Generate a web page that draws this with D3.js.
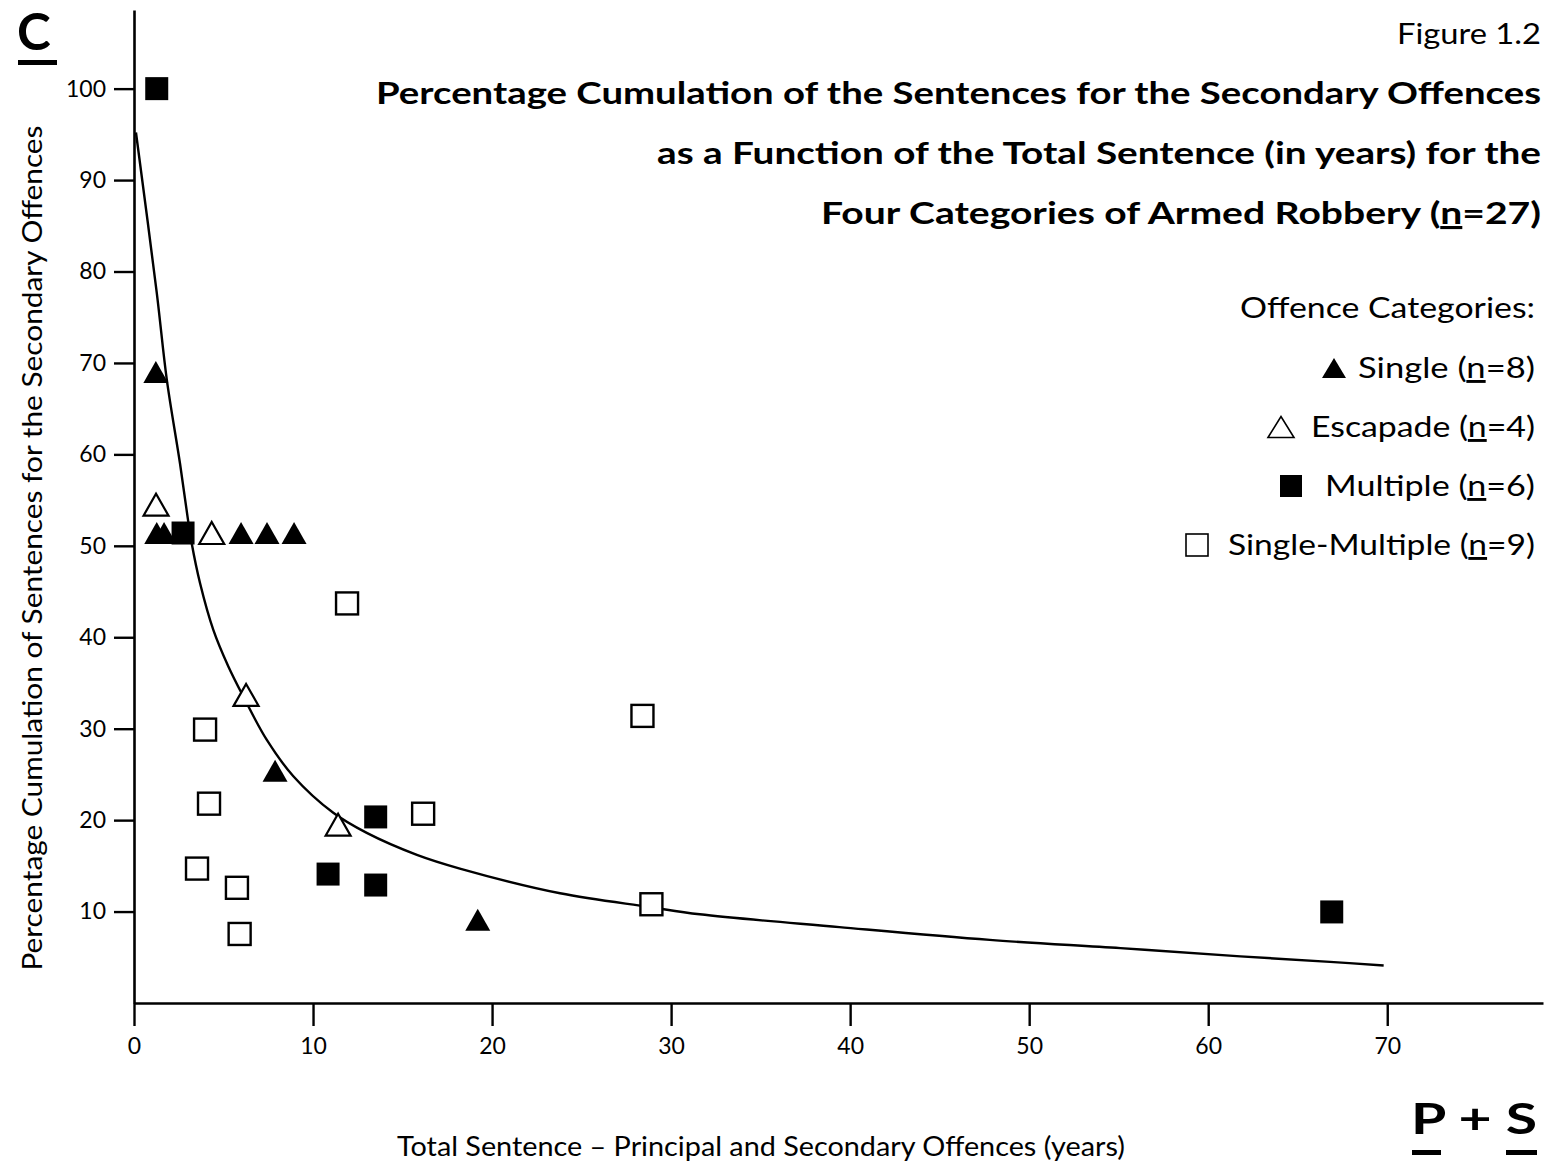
<!DOCTYPE html>
<html>
<head>
<meta charset="utf-8">
<script src="https://cdn.jsdelivr.net/npm/d3@7"></script>
<style>
  html, body { margin: 0; padding: 0; background: #fff; }
  svg { display: block; font-family: Lato, "Open Sans", sans-serif; }
</style>
</head>
<body>
<svg id="chart" width="1546" height="1168"></svg>
<script>
// ---- Data ----
const singleX = [1.22, 1.27, 1.68, 5.98, 7.43, 8.94, 7.88, 19.2];
const singleY = [69.0, 51.4, 51.4, 51.4, 51.4, 51.4, 25.4, 9.1];

const escapadeX = [1.23, 4.34, 6.26, 11.4];
const escapadeY = [54.5, 51.4, 33.7, 19.5];

const multipleX = [1.27, 2.74, 10.84, 13.5, 13.5, 66.9];
const multipleY = [100.0, 51.4, 14.1, 20.35, 12.9, 9.96];

const singleMultX = [11.9, 3.97, 4.19, 3.52, 5.75, 5.9, 16.15, 28.4, 28.9];
const singleMultY = [43.7, 29.9, 21.8, 14.7, 12.6, 7.55, 20.7, 31.4, 10.8];

// fitted curve as drawn in the figure
const curveX = [0.11, 1.27, 1.83, 2.57, 2.99, 3.22, 3.69, 4.43, 5.27, 6.11, 7.41, 8.9, 11.13, 13.0, 15.8, 18.2, 23.8, 28.8, 31.6, 39.4, 47.8, 55.1, 61.8, 66.8, 69.8];
const curveY = [95.2, 77.7, 68.2, 59.0, 53.2, 50.3, 45.9, 40.8, 36.8, 33.5, 28.8, 24.8, 20.8, 18.6, 16.2, 14.7, 12.0, 10.5, 9.7, 8.3, 6.9, 6.0, 5.1, 4.5, 4.1];

const xTicks = [0, 10, 20, 30, 40, 50, 60, 70];
const xTickLabels = ["0", "10", "20", "30", "40", "50", "60", "70"];
const yTicks = [10, 20, 30, 40, 50, 60, 70, 80, 90, 100];
const yTickLabels = ["10", "20", "30", "40", "50", "60", "70", "80", "90", "100"];

const titleLines = [
  ["Percentage Cumulation of the Sentences for the Secondary Offences"],
  ["as a Function of the Total Sentence (in years) for the"],
  ["Four Categories of Armed Robbery (", "n", "=27)"]
];
const legendHeader = "Offence Categories:";
const legendNames = ["Single", "Escapade", "Multiple", "Single-Multiple"];
const legendCounts = ["8", "4", "6", "9"];
const xLabel = "Total Sentence \u2013 Principal and Secondary Offences (years)";
const yLabel = "Percentage Cumulation of Sentences for the Secondary Offences";

// ---- Drawing ----
const svg = d3.select("#chart");
svg.append("rect").attr("width", 1546).attr("height", 1168).attr("fill", "#fff");

const x = d3.scaleLinear().domain([0, 78.7]).range([134, 1543]);
const y = d3.scaleLinear().domain([0, 108.6]).range([1003, 10]);

// axes
const xAxis = d3.axisBottom(x).tickValues(xTicks).tickSize(23).tickSizeOuter(0).tickPadding(12)
  .tickFormat((d, i) => xTickLabels[i]);
const yAxis = d3.axisLeft(y).tickValues(yTicks).tickSize(20).tickSizeOuter(0).tickPadding(8)
  .tickFormat((d, i) => yTickLabels[i]);

const gx = svg.append("g").attr("transform", `translate(0,${y(0)})`).call(xAxis);
const gy = svg.append("g").attr("transform", `translate(${x(0)},0)`).call(yAxis);
[gx, gy].forEach(g => {
  g.select(".domain").attr("stroke", "#000").attr("stroke-width", 2.6);
  g.selectAll(".tick line").attr("stroke", "#000").attr("stroke-width", 2.4);
  g.selectAll(".tick text").attr("fill", "#000").attr("font-size", 23)
    .attr("font-family", "Lato, sans-serif");
});
gx.selectAll(".tick text").attr("dy", "0.71em");

// fitted curve
const curvePts = curveX.map((v, i) => [v, curveY[i]]);
svg.append("path")
  .datum(curvePts)
  .attr("fill", "none")
  .attr("stroke", "#000")
  .attr("stroke-width", 2.4)
  .attr("d", d3.line().x(d => x(d[0])).y(d => y(d[1])).curve(d3.curveCatmullRom.alpha(0.5)));

// marker shapes (centered on bounding box)
function triPath(cx, cy, w, h) {
  return `M${cx - w / 2},${cy + h / 2}L${cx},${cy - h / 2}L${cx + w / 2},${cy + h / 2}Z`;
}
const zip = (a, b) => a.map((v, i) => [v, b[i]]);

// Single-Multiple: open squares
svg.append("g").selectAll("rect").data(zip(singleMultX, singleMultY)).join("rect")
  .attr("x", d => x(d[0]) - 11).attr("y", d => y(d[1]) - 11)
  .attr("width", 22).attr("height", 22)
  .attr("fill", "#fff").attr("stroke", "#000").attr("stroke-width", 2.4);

// Multiple: filled squares
svg.append("g").selectAll("rect").data(zip(multipleX, multipleY)).join("rect")
  .attr("x", d => x(d[0]) - 11.5).attr("y", d => y(d[1]) - 11.5)
  .attr("width", 23).attr("height", 23)
  .attr("fill", "#000");

// Escapade: open triangles
svg.append("g").selectAll("path").data(zip(escapadeX, escapadeY)).join("path")
  .attr("d", d => triPath(x(d[0]), y(d[1]), 25, 22))
  .attr("fill", "#fff").attr("stroke", "#000").attr("stroke-width", 2.2)
  .attr("stroke-linejoin", "miter");

// Single: filled triangles
svg.append("g").selectAll("path").data(zip(singleX, singleY)).join("path")
  .attr("d", d => triPath(x(d[0]), y(d[1]), 25, 22))
  .attr("fill", "#000");

// ---- Texts ----
// "C" panel letter
svg.append("text").attr("x", 17).attr("y", 50).attr("font-size", 51).attr("font-weight", 700)
  .attr("fill", "#000").text("C");
svg.append("rect").attr("x", 18).attr("y", 60).attr("width", 39).attr("height", 5).attr("fill", "#000");

// Figure number
svg.append("text").attr("x", 1541).attr("y", 44).attr("text-anchor", "end")
  .attr("font-size", 29).attr("fill", "#000")
  .attr("textLength", 144).attr("lengthAdjust", "spacingAndGlyphs")
  .text("Figure 1.2");

// Title
const titleWidths = [1165, 884, 720];
titleLines.forEach((parts, i) => {
  const t = svg.append("text").attr("x", 1541).attr("y", 104 + i * 60)
    .attr("text-anchor", "end").attr("font-size", 31).attr("font-weight", 700).attr("fill", "#000")
    .attr("textLength", titleWidths[i]).attr("lengthAdjust", "spacingAndGlyphs");
  parts.forEach((p, j) => {
    const ts = t.append("tspan").text(p);
    if (parts.length > 1 && j === 1) ts.attr("text-decoration", "underline");
  });
});

// Legend
svg.append("text").attr("x", 1535).attr("y", 318).attr("text-anchor", "end")
  .attr("font-size", 29).attr("fill", "#000")
  .attr("textLength", 295).attr("lengthAdjust", "spacingAndGlyphs")
  .text(legendHeader);

const legendTextStart = [1358, 1311, 1325, 1228];
const legendSymX = [1334, 1281, 1291, 1197];
legendNames.forEach((name, i) => {
  const cy = 368 + i * 59;
  const t = svg.append("text").attr("x", 1535).attr("y", cy + 10).attr("text-anchor", "end")
    .attr("font-size", 29).attr("fill", "#000")
    .attr("textLength", 1535 - legendTextStart[i]).attr("lengthAdjust", "spacingAndGlyphs");
  t.append("tspan").text(name + " (");
  t.append("tspan").attr("text-decoration", "underline").text("n");
  t.append("tspan").text("=" + legendCounts[i] + ")");
  const sx = legendSymX[i];
  if (i === 0) {
    svg.append("path").attr("d", triPath(sx, cy, 24, 20)).attr("fill", "#000");
  } else if (i === 1) {
    svg.append("path").attr("d", triPath(sx, cy, 26, 21)).attr("fill", "#fff")
      .attr("stroke", "#000").attr("stroke-width", 1.6);
  } else if (i === 2) {
    svg.append("rect").attr("x", sx - 11).attr("y", cy - 11).attr("width", 22).attr("height", 22)
      .attr("fill", "#000");
  } else {
    svg.append("rect").attr("x", sx - 11).attr("y", cy - 11).attr("width", 22).attr("height", 22)
      .attr("fill", "#fff").attr("stroke", "#000").attr("stroke-width", 1.6);
  }
});

// Axis labels
svg.append("text").attr("x", 761).attr("y", 1156).attr("text-anchor", "middle")
  .attr("font-size", 26).attr("fill", "#000")
  .attr("textLength", 728).attr("lengthAdjust", "spacingAndGlyphs")
  .text(xLabel);

svg.append("text").attr("transform", "translate(42,548) rotate(-90)").attr("text-anchor", "middle")
  .attr("font-size", 26).attr("fill", "#000")
  .attr("textLength", 845).attr("lengthAdjust", "spacingAndGlyphs")
  .text(yLabel);

// "P + S" logo
const ps = svg.append("text").attr("x", 1411).attr("y", 1134).attr("font-size", 42)
  .attr("font-weight", 700).attr("fill", "#000")
  .attr("textLength", 126).attr("lengthAdjust", "spacingAndGlyphs");
ps.append("tspan").text("P");
ps.append("tspan").text(" + ");
ps.append("tspan").text("S");
svg.append("rect").attr("x", 1412).attr("y", 1150).attr("width", 29).attr("height", 5).attr("fill", "#000");
svg.append("rect").attr("x", 1506).attr("y", 1150).attr("width", 31).attr("height", 5).attr("fill", "#000");
</script>
</body>
</html>
